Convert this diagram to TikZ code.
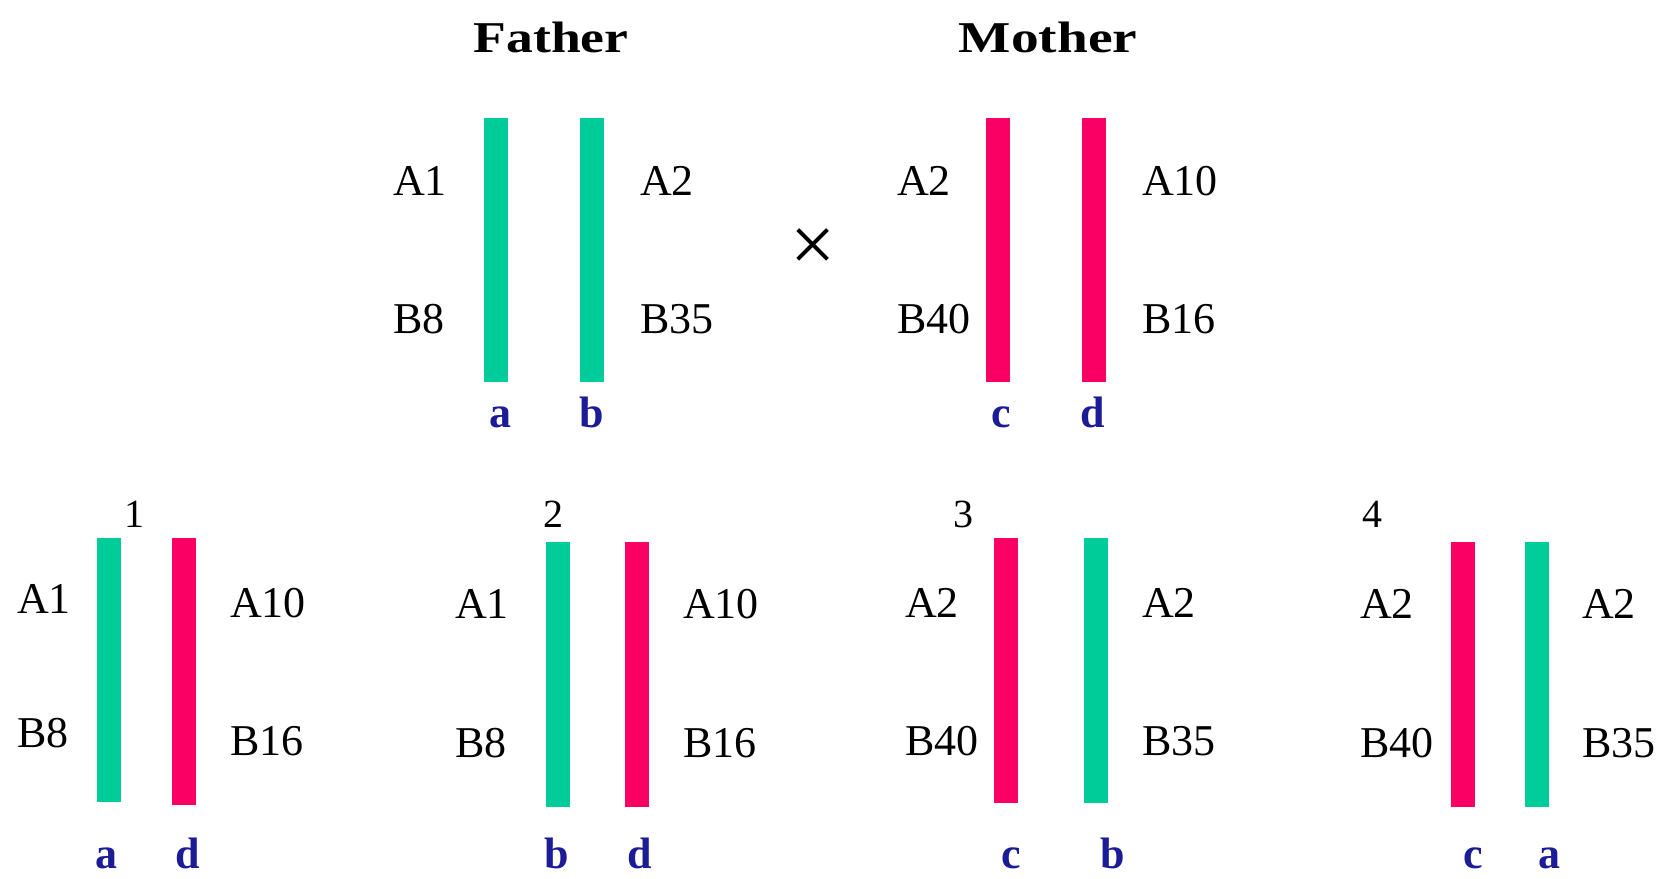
\documentclass[tikz,border=0pt]{standalone}
\usepackage{fontspec}
\setmainfont{Liberation Serif}
\definecolor{chgreen}{RGB}{0,204,153}
\definecolor{chpink}{RGB}{250,0,100}
\definecolor{chblue}{RGB}{28,28,150}
\begin{document}
\begin{tikzpicture}[x=1pt,y=-1pt,
  lab/.style={inner sep=0pt,anchor=base west,font=\fontsize{44}{50}\selectfont},
  lbl/.style={inner sep=0pt,anchor=base,text=chblue,font=\fontsize{44}{50}\selectfont\bfseries},
  num/.style={inner sep=0pt,anchor=base west,font=\fontsize{40}{48}\selectfont},
  ttl/.style={inner sep=0pt,anchor=base,font=\fontsize{44}{50}\selectfont\bfseries},
  gbar/.style={fill=chgreen,draw=none,inner sep=0pt,minimum width=24pt},
  pbar/.style={fill=chpink,draw=none,inner sep=0pt,minimum width=24pt}]
\useasboundingbox (0,0) rectangle (1673,878);
\fill[white] (0,0) rectangle (1673,878);
% ---- parents ----
\node[ttl] (father) at (551,52) {\scalebox{1.22}[1]{Father}};
\node[ttl] (mother) at (1048,52) {\scalebox{1.26}[1]{Mother}};
\node[gbar,minimum height=264pt] (pa) at (495.5,250) {};
\node[gbar,minimum height=264pt] (pb) at (592,250) {};
\node[pbar,minimum height=264pt] (pc) at (998,250) {};
\node[pbar,minimum height=264pt] (pd) at (1093.5,250) {};
\node[lab] (pA1) at (393,195) {A1};
\node[lab] (pB8) at (393,333) {B8};
\node[lab] (pA2) at (640,195) {A2};
\node[lab] (pB35) at (640,333) {B35};
\node[lab] (mA2) at (897,195) {A2};
\node[lab] (mB40) at (897,333) {B40};
\node[lab] (mA10) at (1142,195) {A10};
\node[lab] (mB16) at (1142,333) {B16};
\node[lbl] (la) at (500,427) {a};
\node[lbl] (lb) at (592,427) {b};
\node[lbl] (lc) at (1001,427) {c};
\node[lbl] (ld) at (1093,427) {d};
\node[inner sep=0pt,font=\fontsize{80}{84}\selectfont] (cross) at (813,250) {×};
% ---- offspring 1 ----
\node[num] (n1) at (124,527) {1};
\node[gbar,minimum height=264pt] (o1a) at (108.5,670) {};
\node[pbar,minimum height=267pt] (o1d) at (184,671.5) {};
\node[lab] (o1A1) at (17,613) {A1};
\node[lab] (o1B8) at (17,747) {B8};
\node[lab] (o1A10) at (230,617) {A10};
\node[lab] (o1B16) at (230,755) {B16};
\node[lbl] (o1la) at (106,868) {a};
\node[lbl] (o1ld) at (188,868) {d};
% ---- offspring 2 ----
\node[num] (n2) at (543,527) {2};
\node[gbar,minimum height=265pt] (o2b) at (557.5,674.5) {};
\node[pbar,minimum height=265pt] (o2d) at (637,674.5) {};
\node[lab] (o2A1) at (455,618) {A1};
\node[lab] (o2B8) at (455,757) {B8};
\node[lab] (o2A10) at (683,618) {A10};
\node[lab] (o2B16) at (683,757) {B16};
\node[lbl] (o2lb) at (557,868) {b};
\node[lbl] (o2ld) at (640,868) {d};
% ---- offspring 3 ----
\node[num] (n3) at (953,527) {3};
\node[pbar,minimum height=265pt] (o3c) at (1006,670.5) {};
\node[gbar,minimum height=265pt] (o3b) at (1095.5,670.5) {};
\node[lab] (o3A2) at (905,617) {A2};
\node[lab] (o3B40) at (905,755) {B40};
\node[lab] (o3A2r) at (1142,617) {A2};
\node[lab] (o3B35) at (1142,755) {B35};
\node[lbl] (o3lc) at (1011,868) {c};
\node[lbl] (o3lb) at (1113,868) {b};
% ---- offspring 4 ----
\node[num] (n4) at (1362,527) {4};
\node[pbar,minimum height=265pt] (o4c) at (1462.5,674.5) {};
\node[gbar,minimum height=265pt] (o4a) at (1536.5,674.5) {};
\node[lab] (o4A2) at (1360,618) {A2};
\node[lab] (o4B40) at (1360,757) {B40};
\node[lab] (o4A2r) at (1582,618) {A2};
\node[lab] (o4B35) at (1582,757) {B35};
\node[lbl] (o4lc) at (1473,868) {c};
\node[lbl] (o4la) at (1549,868) {a};
\end{tikzpicture}
\end{document}
